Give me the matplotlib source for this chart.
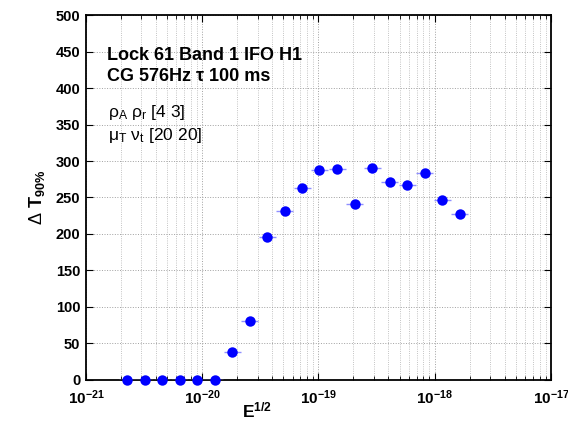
import numpy as np
import matplotlib
matplotlib.use("Agg")
import matplotlib.pyplot as plt
from matplotlib.ticker import LogLocator, FixedLocator, FuncFormatter, NullFormatter

plt.rcParams['font.family'] = ['Liberation Sans', 'DejaVu Sans']
plt.rcParams['mathtext.fontset'] = 'custom'
plt.rcParams['mathtext.rm'] = 'Liberation Sans'
plt.rcParams['mathtext.bf'] = 'Liberation Sans:bold'
plt.rcParams['mathtext.it'] = 'Liberation Sans:italic'

# Data
e_half = [2.26e-21, 3.2e-21, 4.5e-21, 6.4e-21, 9.05e-21, 1.28e-20, 1.81e-20,
          2.56e-20, 3.62e-20, 5.12e-20, 7.24e-20, 1.02e-19, 1.45e-19, 2.05e-19,
          2.9e-19, 4.1e-19, 5.8e-19, 8.2e-19, 1.16e-18, 1.64e-18]
delta_t90 = [0, 0, 0, 0, 0, 0, 38, 81, 196, 231, 263, 288, 289, 241,
             291, 271, 267, 284, 246, 228]
xerr_factor = 1.18
x_ticks = [1e-21, 1e-20, 1e-19, 1e-18, 1e-17]
x_tick_labels = ['-21', '-20', '-19', '-18', '-17']
y_ticks = list(range(0, 501, 50))

fig = plt.figure(figsize=(5.68, 4.24), dpi=100)
ax = fig.add_axes([0.1514, 0.1038, 0.8186, 0.8608])

x = np.array(e_half)
y = np.array(delta_t90)
xerr = np.vstack([x - x / xerr_factor, x * xerr_factor - x])
ax.errorbar(x, y, xerr=xerr, fmt='none', ecolor='#8f8fff', elinewidth=1.0, capsize=0, zorder=3)
ax.plot(x, y, 'o', color='#0000ff', markersize=7.5, markeredgewidth=0, zorder=4, clip_on=False)

ax.set_xscale('log')
ax.set_xlim(1e-21, 1e-17)
ax.set_ylim(0, 500)
ax.xaxis.set_major_locator(FixedLocator(x_ticks))
ax.xaxis.set_major_formatter(FuncFormatter(
    lambda v, p: r'$\mathbf{10^{%s}}$' % x_tick_labels[x_ticks.index(min(x_ticks, key=lambda t: abs(np.log10(t) - np.log10(v))))]))
ax.xaxis.set_minor_locator(LogLocator(base=10, subs=np.arange(2, 10), numticks=50))
ax.xaxis.set_minor_formatter(NullFormatter())
ax.yaxis.set_major_locator(FixedLocator(y_ticks))

ax.tick_params(which='both', direction='in', top=True, right=True)
ax.tick_params(which='major', length=5, width=0.8, labelsize=10.5, pad=4)
ax.tick_params(axis='x', which='major', labelsize=11, pad=6)
ax.tick_params(which='minor', length=3, width=0.6)
for lab in ax.get_yticklabels():
    lab.set_fontweight('bold')

ax.grid(which='major', axis='both', linestyle=':', color='#a0a0a0', linewidth=0.7)
ax.grid(which='minor', axis='x', linestyle=':', color='#b0b0b0', linewidth=0.6)
ax.set_axisbelow(True)
for s in ax.spines.values():
    s.set_linewidth(1.3)

fig.text(0.452, 0.008, r'$\mathbf{E^{1/2}}$', fontsize=12.5, ha='center', va='bottom')
ax.set_ylabel(r'$\Delta$ $\mathbf{T_{90\%}}$', fontsize=13, labelpad=6)

ax.text(0.045, 0.876, 'Lock 61 Band 1 IFO H1', transform=ax.transAxes,
        fontsize=13, fontweight='bold', va='baseline')
ax.text(0.045, 0.818, 'CG 576Hz τ 100 ms', transform=ax.transAxes,
        fontsize=13, fontweight='bold', va='baseline')
ax.text(0.047, 0.72, r'$\mathrm{\rho_A\ \rho_r}$ [4 3]', transform=ax.transAxes,
        fontsize=12.5, va='baseline')
ax.text(0.047, 0.657, r'$\mathrm{\mu_T\ \nu_t}$ [20 20]', transform=ax.transAxes,
        fontsize=12.5, va='baseline')

fig.savefig('out.png', dpi=100)
